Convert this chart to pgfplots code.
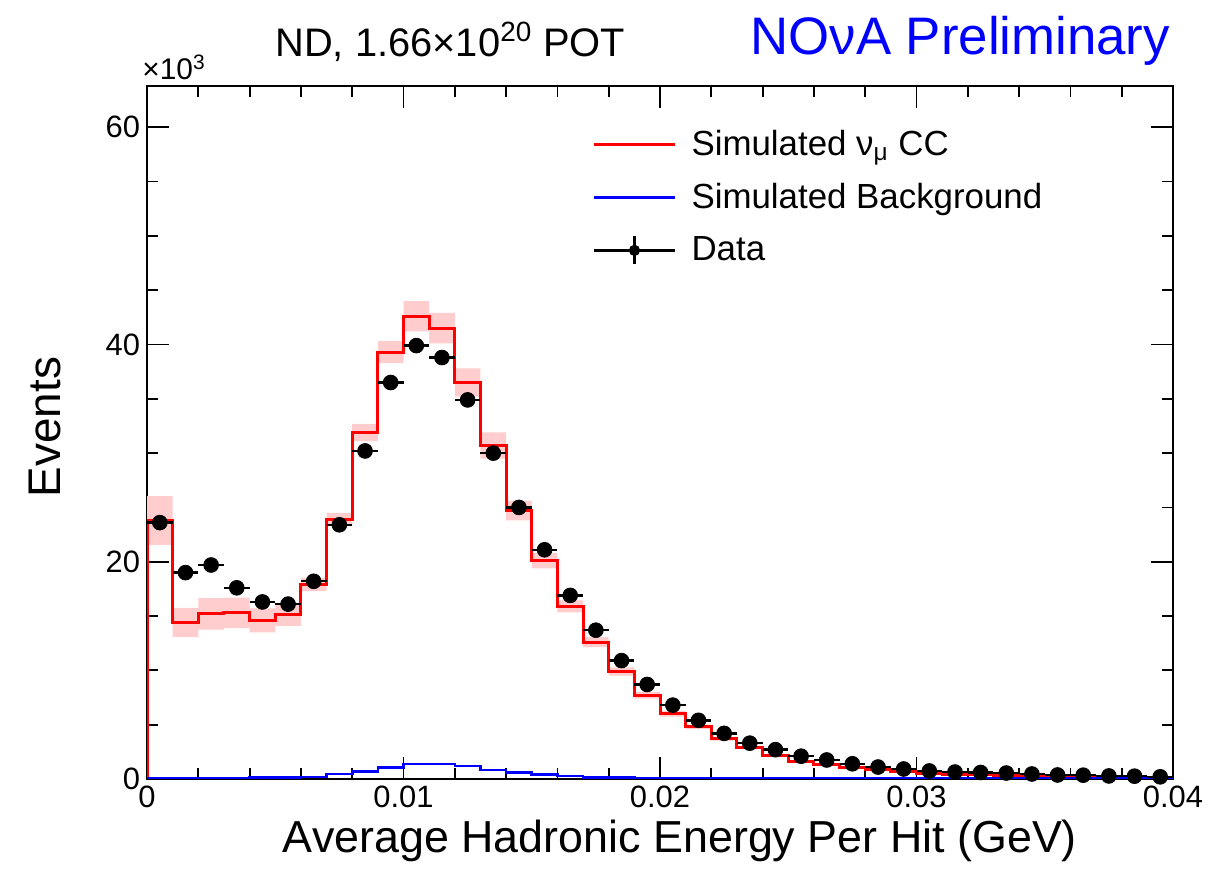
\documentclass[border=0pt]{standalone}
\usepackage{fontspec}
\setmainfont{Liberation Sans}
\usepackage{pgfplots}
\usepackage{pgfplotstable}
\pgfplotsset{compat=1.18}
\usepgfplotslibrary{fillbetween}
\definecolor{rootred}{RGB}{255,0,0}
\definecolor{rootblue}{RGB}{0,0,255}
\definecolor{bandpink}{RGB}{255,205,205}

% bin left edge, simulated numu CC, band low, band high, background
\pgfplotstableread{
x     mc    lo     hi     bkg
0.000 0     0      0      0
0.000 23.8  21.55  26.05  0.10
0.001 14.4  13.05  15.75  0.10
0.002 15.2  13.75  16.65  0.10
0.003 15.3  13.90  16.70  0.10
0.004 14.6  13.50  15.70  0.12
0.005 15.1  14.10  16.10  0.15
0.006 17.9  17.30  18.50  0.20
0.007 23.9  23.30  24.50  0.46
0.008 31.9  31.10  32.70  0.67
0.009 39.3  38.30  40.30  1.04
0.010 42.6  41.20  44.00  1.38
0.011 41.5  40.10  42.90  1.38
0.012 36.5  35.20  37.80  1.20
0.013 30.7  29.50  31.90  0.83
0.014 24.7  23.80  25.60  0.60
0.015 20.1  19.40  20.80  0.40
0.016 15.9  15.35  16.45  0.28
0.017 12.6  12.15  13.05  0.15
0.018 9.9   9.52   10.28  0.12
0.019 7.7   7.40   8.00   0.10
0.020 6.0   5.75   6.25   0.09
0.021 4.8   4.60   5.00   0.08
0.022 3.7   3.53   3.87   0.08
0.023 2.9   2.76   3.04   0.07
0.024 2.2   2.09   2.31   0.07
0.025 1.6   1.51   1.69   0.06
0.026 1.3   1.23   1.37   0.06
0.027 1.05  0.99   1.11   0.05
0.028 0.85  0.80   0.90   0.05
0.029 0.70  0.66   0.74   0.05
0.030 0.55  0.52   0.58   0.04
0.031 0.45  0.43   0.47   0.04
0.032 0.38  0.36   0.40   0.04
0.033 0.32  0.30   0.34   0.04
0.034 0.27  0.26   0.28   0.03
0.035 0.22  0.21   0.23   0.03
0.036 0.18  0.17   0.19   0.03
0.037 0.15  0.14   0.16   0.03
0.038 0.13  0.12   0.14   0.03
0.039 0.10  0.09   0.11   0.03
0.040 0.10  0.09   0.11   0.03
}\histtable

% bin centre, data, half bin width
\pgfplotstableread{
xc     data   ex
0.0005 23.6   0.0005
0.0015 19.0   0.0005
0.0025 19.7   0.0005
0.0035 17.6   0.0005
0.0045 16.3   0.0005
0.0055 16.1   0.0005
0.0065 18.2   0.0005
0.0075 23.4   0.0005
0.0085 30.2   0.0005
0.0095 36.5   0.0005
0.0105 39.9   0.0005
0.0115 38.8   0.0005
0.0125 34.9   0.0005
0.0135 30.0   0.0005
0.0145 25.0   0.0005
0.0155 21.1   0.0005
0.0165 16.9   0.0005
0.0175 13.7   0.0005
0.0185 10.9   0.0005
0.0195 8.7    0.0005
0.0205 6.8    0.0005
0.0215 5.4    0.0005
0.0225 4.2    0.0005
0.0235 3.3    0.0005
0.0245 2.7    0.0005
0.0255 2.1    0.0005
0.0265 1.75   0.0005
0.0275 1.40   0.0005
0.0285 1.10   0.0005
0.0295 0.92   0.0005
0.0305 0.74   0.0005
0.0315 0.64   0.0005
0.0325 0.60   0.0005
0.0335 0.55   0.0005
0.0345 0.46   0.0005
0.0355 0.37   0.0005
0.0365 0.35   0.0005
0.0375 0.28   0.0005
0.0385 0.26   0.0005
0.0395 0.20   0.0005
}\datatable

\begin{document}
\begin{tikzpicture}
\begin{axis}[
  at={(0,0)}, anchor=south west,
  scale only axis, width=513bp, height=346.5bp,
  xmin=0, xmax=0.04, ymin=0, ymax=63.8,
  xtick={0,0.01,0.02,0.03,0.04},
  xticklabels={0,0.01,0.02,0.03,0.04},
  ytick={0,20,40,60},
  yticklabels={0,20,40,60},
  minor x tick num=4, minor y tick num=3,
  xtick pos=both, ytick pos=both,
  tick align=inside,
  major tick length=11bp, minor tick length=5.5bp,
  axis line style={line width=1.3bp},
  every tick/.style={black, line width=0.9bp},
  scaled ticks=false,
  tick label style={font=\fontsize{15.5}{16}\selectfont},
  /pgf/number format/assume math mode=true,
  legend cell align=left,
  legend style={draw=none, fill=none, at={(rel axis cs:0.428,0.948)}, anchor=north west,
    font=\fontsize{17.5}{18}\selectfont, row sep=8.5bp, column sep=5.5bp,
    nodes={inner sep=2bp}},
  legend image code/.code={\draw[#1] (0bp,0bp) -- (40.5bp,0bp);},
]
\addplot[name path=up, draw=none, const plot mark left, forget plot] table[x=x, y=hi]{\histtable};
\addplot[name path=lo, draw=none, const plot mark left, forget plot] table[x=x, y=lo]{\histtable};
\addplot[bandpink, forget plot] fill between[of=up and lo];
\addplot[rootred, line width=1.5bp, const plot mark left] table[x=x, y=mc]{\histtable};
\addlegendentry{Simulated ν\textsubscript{μ} CC}
\addplot[rootblue, line width=1.3bp, const plot mark left] table[x=x, y=bkg]{\histtable};
\addlegendentry{Simulated Background}
\addplot[black, only marks, mark=*, mark size=3.7bp,
  legend image code/.code={%
    \draw[black, line width=1.3bp] (0bp,0bp) -- (40.5bp,0bp);
    \draw[black, line width=1.3bp] (20.25bp,-7bp) -- (20.25bp,7bp);
    \fill[black] (20.25bp,0bp) circle (2.6bp);},
  error bars/.cd, x dir=both, x explicit, error mark=none,
  error bar style={line width=1.2bp, black}]
  table[x=xc, y=data, x error=ex]{\datatable};
\addlegendentry{Data}
\end{axis}
\node[anchor=base, font=\fontsize{22.5}{23}\selectfont] at (266.5bp,-37bp) {Average Hadronic Energy Per Hit (GeV)};
\node[rotate=90, anchor=center, font=\fontsize{23}{24}\selectfont] at (-51bp,176bp) {Events};
\node[anchor=base west, inner sep=0pt, font=\fontsize{15}{16}\selectfont] at (-2.5bp,349.5bp) {×10\textsuperscript{3}};
\node[anchor=base west, inner sep=0pt, font=\fontsize{20}{21}\selectfont] at (64bp,361bp) {ND, 1.66×10\textsuperscript{20} POT};
\node[anchor=base west, inner sep=0pt, font=\fontsize{26.5}{27}\selectfont, text=rootblue] at (301.5bp,362bp) {NOνA Preliminary};
\path[use as bounding box] (-73.5bp,-41bp) rectangle (535.5bp,389.5bp);
\end{tikzpicture}
\end{document}
